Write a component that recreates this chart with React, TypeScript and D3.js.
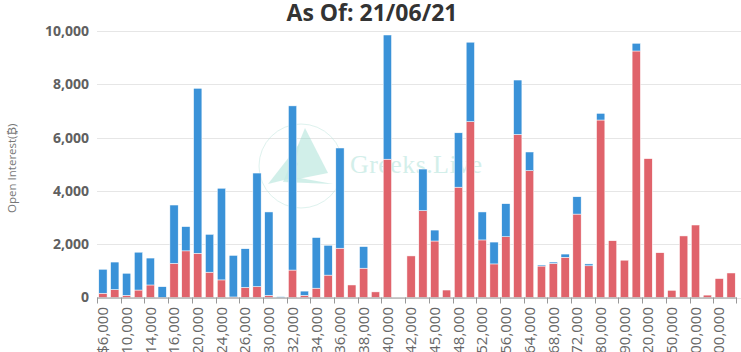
import React from "react";
import * as d3 from "d3";

const categories = [
  "$6,000", "$8,000", "$10,000", "$12,000", "$14,000", "$15,000", "$16,000", "$18,000", "$20,000", "$22,000",
  "$24,000", "$25,000", "$26,000", "$28,000", "$30,000", "$31,000", "$32,000", "$33,000", "$34,000", "$35,000",
  "$36,000", "$37,000", "$38,000", "$39,000", "$40,000", "$41,000", "$42,000", "$44,000", "$45,000", "$46,000",
  "$48,000", "$50,000", "$52,000", "$54,000", "$56,000", "$60,000", "$64,000", "$65,000", "$68,000", "$70,000",
  "$72,000", "$75,000", "$80,000", "$85,000", "$90,000", "$100,000", "$120,000", "$140,000", "$150,000", "$180,000",
  "$200,000", "$250,000", "$300,000", "$400,000",
];

const calls = [
  160, 300, 80, 280, 470, 0, 1280, 1750, 1660, 950,
  660, 20, 380, 410, 80, 0, 1030, 80, 350, 840,
  1850, 470, 1100, 210, 5190, 0, 1560, 3260, 2120, 280,
  4140, 6600, 2160, 1260, 2280, 6120, 4760, 1180, 1280, 1510,
  3130, 1190, 6660, 2130, 1400, 9250, 5210, 1680, 270, 2310,
  2720, 90, 710, 920,
];

const puts = [
  900, 1030, 830, 1420, 1010, 405, 2190, 910, 6190, 1420,
  3440, 1560, 1450, 4260, 3130, 30, 6160, 160, 1900, 1120,
  3760, 0, 810, 0, 4660, 0, 0, 1560, 410, 0,
  2040, 2980, 1050, 820, 1240, 2040, 700, 40, 50, 120,
  650, 70, 250, 0, 0, 290, 0, 0, 0, 0,
  0, 0, 0, 0,
];

const yTicks = [0, 2000, 4000, 6000, 8000, 10000];
const titleText = "As Of: 21/06/21";
const yTitle = "Open Interest(₿)";
const watermark = "Greeks.Live";

const W = 741;
const H = 352;
const M = { left: 97, right: 737, top: 31, bottom: 297.5 };
const RED = "#e0636b";
const BLUE = "#3a92d8";

export default function App() {
  const x = d3.scaleBand<string>().domain(categories).range([M.left, M.right]).paddingInner(0.3).paddingOuter(0.15);
  const y = d3.scaleLinear().domain([0, 10000]).range([M.bottom, M.top]);
  const step = x.step();
  const fmt = d3.format(",");

  return (
    <svg
      width={W}
      height={H}
      style={{ position: "absolute", left: 0, top: 0, background: "#fff", overflow: "hidden" }}
    >
      {/* title */}
      <text x={372} y={21} textAnchor="middle" fontFamily="'Open Sans', sans-serif" fontWeight={700} fontSize={23} fill="#333">
        {titleText}
      </text>

      {/* gridlines */}
      {yTicks.map((t) => (
        <line key={"g" + t} x1={M.left} x2={M.right + 4} y1={Math.round(y(t)) + 0.5} y2={Math.round(y(t)) + 0.5} stroke="#e6e6e6" strokeWidth={1} />
      ))}

      {/* y labels */}
      {yTicks.map((t) => (
        <text key={"yl" + t} x={89} y={y(t)} dy="0.35em" textAnchor="end" fontFamily="'Open Sans', sans-serif" fontWeight={700} fontSize={14} fill="#606060">
          {fmt(t)}
        </text>
      ))}

      <text
        transform={`translate(16,${(M.top + M.bottom) / 2 + 4}) rotate(-90)`}
        textAnchor="middle"
        fontFamily="'Open Sans', sans-serif"
        fontSize={11.5}
        fill="#777"
      >
        {yTitle}
      </text>

      {/* watermark */}
      <g opacity={0.5}>
        <circle cx={301} cy={166} r={42} fill="none" stroke="#bfe7df" strokeWidth={1} />
        <polygon points="305,128 328,173 283,182" fill="#8fd8ca" opacity={0.8} />
        <polygon points="300,143 268,184 292,178" fill="#8fd8ca" opacity={0.8} />
        <polygon points="283,182 333,184 300,178" fill="#8fd8ca" opacity={0.8} />
        <text x={290} y={171} fontFamily="'Liberation Serif', serif" fontStyle="italic" fontSize={18} fill="#8fd8ca">e</text>
        <text x={350} y={173} textLength={132} fontFamily="'Liberation Serif', serif" fontSize={26} fill="#a9e0d6">{watermark}</text>
      </g>

      {/* bars */}
      {categories.map((c, i) => {
        const bx = x(c)!;
        const bw = x.bandwidth();
        const r0 = y(0);
        const r1 = y(calls[i]);
        const b1 = y(calls[i] + puts[i]);
        return (
          <g key={"b" + i}>
            {calls[i] > 0 && (
              <rect x={bx} y={r1} width={bw} height={r0 - r1} fill={RED} stroke="#fff" strokeWidth={0.5} />
            )}
            {puts[i] > 0 && (
              <rect x={bx} y={b1} width={bw} height={r1 - b1} fill={BLUE} stroke="#fff" strokeWidth={0.5} />
            )}
          </g>
        );
      })}

      {/* x axis line */}
      <line x1={M.left} x2={M.right} y1={M.bottom + 0.5} y2={M.bottom + 0.5} stroke="#999" strokeWidth={1} />
      {categories.map((c, i) =>
        i % 2 === 0 ? (
          <line key={"t" + i} x1={Math.round(x(c)! - step * 0.15) + 0.5} x2={Math.round(x(c)! - step * 0.15) + 0.5} y1={M.bottom} y2={M.bottom + 6} stroke="#999" strokeWidth={1} />
        ) : null
      )}
      <line x1={M.right - 0.5} x2={M.right - 0.5} y1={M.bottom} y2={M.bottom + 6} stroke="#999" strokeWidth={1} />

      {/* x labels */}
      {categories.map((c, i) =>
        i % 2 === 0 ? (
          <text
            key={"xl" + i}
            transform={`translate(${x(c)! + x.bandwidth() / 2},307) rotate(-90)`}
            dy="0.35em"
            textAnchor="end"
            fontFamily="'Open Sans', sans-serif"
            fontSize={15}
            fill="#666"
          >
            {c}
          </text>
        ) : null
      )}
    </svg>
  );
}
